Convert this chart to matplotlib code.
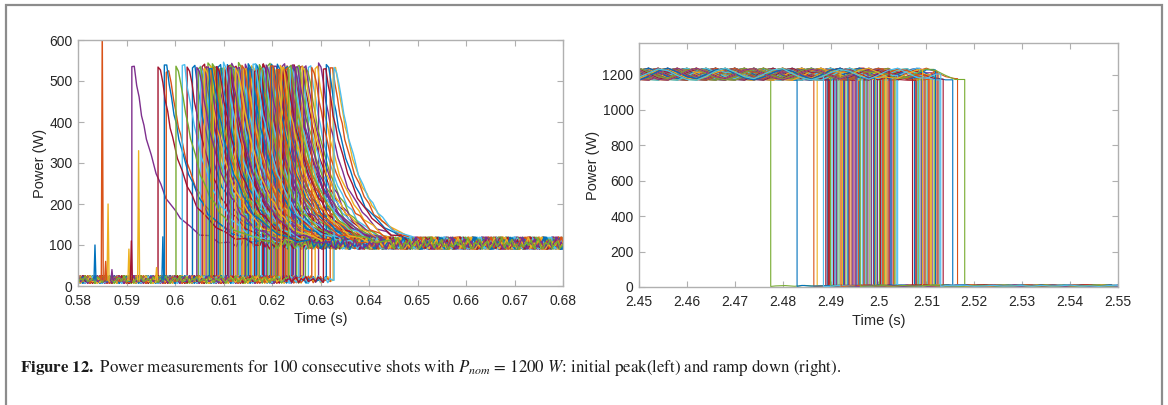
import numpy as np
import matplotlib.pyplot as plt
from matplotlib.patches import Rectangle

plt.rcParams['font.family'] = ['Liberation Sans', 'DejaVu Sans']
plt.rcParams['mathtext.fontset'] = 'stix'

# MATLAB default line colours
shot_colors = ['#0072BD', '#D95319', '#EDB120', '#7E2F8E', '#77AC30', '#4DBEEE', '#A2142F']

# ---------------- left panel: initial peak ----------------
# onset time of the power step for each of the 100 shots (s)
onset_t = [
    0.5911, 0.5965, 0.5978, 0.5982, 0.6002, 0.6015, 0.6025, 0.6036, 0.6045, 0.6048,
    0.6052, 0.6056, 0.6061, 0.6064, 0.6068, 0.6071, 0.6075, 0.6079, 0.6082, 0.6086,
    0.6089, 0.6093, 0.6097, 0.6100, 0.6104, 0.6108, 0.6111, 0.6114, 0.6118, 0.6121,
    0.6125, 0.6128, 0.6131, 0.6135, 0.6138, 0.6141, 0.6145, 0.6148, 0.6151, 0.6155,
    0.6158, 0.6161, 0.6164, 0.6168, 0.6171, 0.6174, 0.6178, 0.6181, 0.6184, 0.6188,
    0.6191, 0.6194, 0.6197, 0.6201, 0.6204, 0.6207, 0.6211, 0.6214, 0.6217, 0.6221,
    0.6224, 0.6227, 0.6231, 0.6234, 0.6238, 0.6241, 0.6244, 0.6248, 0.6251, 0.6255,
    0.6258, 0.6262, 0.6265, 0.6269, 0.6275, 0.6282, 0.6289, 0.6296, 0.6306, 0.6312,
    0.6320, 0.6326, 0.6328, 0.6109, 0.6152, 0.6060, 0.6077, 0.6133, 0.6182, 0.6219,
    0.6243, 0.6093, 0.6166, 0.6210, 0.6236, 0.6117, 0.6143, 0.6199, 0.6228, 0.6073,
]
peak_level = [535, 530, 538, 527, 533, 540, 529, 536, 531]

# shape of the peak after the step: time after onset (ms) and power (W)
decay_ms = [0, 0.5, 1, 1.5, 2, 2.5, 3, 4, 5, 6, 7, 8, 9, 10, 12, 14, 16, 18, 20]
decay_w = [535, 532, 492, 455, 420, 390, 362, 315, 276, 245, 220, 198, 180, 165, 142, 127, 117, 110, 105]
decay_ripple = [0, 4, -3, 6, -5, 2, -4, 5, -2, 3, -6, 1, 4]

# baseline before the step and level after the peak (W)
base_w = [14, 18, 11, 22, 16, 9, 19, 13, 24, 15, 7, 17, 20, 12, 25, 10, 16, 21, 8, 18, 14, 23, 11]
tail_w = [102, 96, 108, 99, 112, 94, 104, 117, 98, 91, 106, 101, 114, 95, 103, 109, 92,
          100, 111, 97, 105, 119, 93, 107, 99, 113, 96, 102, 90]

# isolated spikes on the baseline: time (s), power (W), colour index
spike_t = [0.5835, 0.5850, 0.5862, 0.5857, 0.5905, 0.5925, 0.5910, 0.5975, 0.5870, 0.5962]
spike_w = [100, 640, 200, 60, 90, 330, 110, 120, 40, 45]
spike_c = [0, 1, 2, 1, 2, 2, 6, 0, 3, 2]

# ---------------- right panel: ramp down ----------------
end_t = [
    2.4775, 2.4830, 2.4865, 2.4872, 2.4885, 2.4890, 2.4893, 2.4896, 2.4900, 2.4903,
    2.4906, 2.4909, 2.4912, 2.4915, 2.4918, 2.4922, 2.4925, 2.4929, 2.4932, 2.4936,
    2.4940, 2.4943, 2.4947, 2.4951, 2.4955, 2.4958, 2.4962, 2.4966, 2.4970, 2.4974,
    2.4978, 2.4982, 2.4986, 2.4990, 2.4994, 2.4998, 2.5002, 2.5006, 2.5010, 2.5014,
    2.5018, 2.5022, 2.5026, 2.5031, 2.5035, 2.5040, 2.5071, 2.5075, 2.5079, 2.5083,
    2.5086, 2.5089, 2.5092, 2.5095, 2.5099, 2.5102, 2.5106, 2.5109, 2.5112, 2.5116,
    2.5119, 2.5122, 2.5126, 2.5130, 2.5135, 2.5155, 2.5165, 2.5180, 2.4913, 2.4938,
    2.4960, 2.4985, 2.5012, 2.5037, 2.4898, 2.4920, 2.4945, 2.4968, 2.4992, 2.5008,
    2.5020, 2.5028, 2.5078, 2.5091, 2.5104, 2.5118, 2.5128, 2.4895, 2.4927, 2.4953,
    2.4976, 2.4996, 2.5004, 2.5016, 2.5024, 2.5033, 2.5081, 2.5097, 2.5110, 2.5124,
]
plateau_w = [1215, 1198, 1176, 1185, 1208, 1231, 1222, 1195, 1172, 1168, 1190, 1219, 1236,
             1214, 1188, 1177, 1201, 1226, 1233, 1205, 1181, 1170, 1186, 1211, 1229, 1218,
             1193, 1174, 1197, 1224, 1235, 1210, 1183, 1179, 1203, 1227, 1212]
off_w = [6, 8, 4, 9, 5, 7, 11, 5, 6, 3, 8, 7, 10, 4, 6, 9, 5]


def cycled(vals, n, shift):
    return np.resize(np.roll(np.asarray(vals, float), shift), n)


fig = plt.figure(figsize=(11.68, 4.05), dpi=100)
ax1 = fig.add_axes([78 / 1168, 1 - 286 / 405, 485 / 1168, 246 / 405])
ax2 = fig.add_axes([639 / 1168, 1 - 287 / 405, 479 / 1168, 244 / 405])

# draw shots in a mixed order so the colours are not sorted by time
order = [(k * 37) % 100 for k in range(100)]

for k, i in enumerate(order):
    c = shot_colors[(k + 3) % 7]
    t0 = onset_t[i]
    tb = np.arange(0.5800, t0, 0.0005)
    yb = cycled(base_w, len(tb), i * 3)
    td = t0 + np.array(decay_ms) / 1000
    yd = np.array(decay_w) + cycled(decay_ripple, len(decay_ms), i)
    yd[:2] += peak_level[i % len(peak_level)] - 535
    tt = np.arange(t0 + 0.0210, 0.6805, 0.0005)
    yt = cycled(tail_w, len(tt), i * 5)
    x = np.concatenate([tb, [t0], td, tt])
    y = np.concatenate([yb, [yb[-1] if len(yb) else 15], yd, yt])
    ax1.plot(x, y, color=c, lw=1.0)

for t, w, ci in zip(spike_t, spike_w, spike_c):
    ax1.plot([t - 0.0002, t, t + 0.0002], [15, w, 15], color=shot_colors[ci], lw=1.0)

for k, i in enumerate(order):
    c = shot_colors[(k + 4) % 7]
    t1 = end_t[i]
    tp = np.arange(2.4500, t1, 0.002)
    yp = cycled(plateau_w, len(tp), i * 7)
    ta = np.arange(t1 + 0.001, 2.5505, 0.002)
    ya = cycled(off_w, len(ta), i * 2)
    x = np.concatenate([tp, [t1, t1], ta])
    y = np.concatenate([yp, [yp[-1], 3], ya])
    ax2.plot(x, y, color=c, lw=0.8)

for ax in (ax1, ax2):
    for s in ax.spines.values():
        s.set_color('#b0b0b0')
        s.set_linewidth(1.0)
    ax.tick_params(direction='in', top=True, right=True, length=4, width=0.8,
                   color='#b0b0b0', labelcolor='#262626', labelsize=10)
    ax.tick_params(axis='x', pad=6)
    ax.tick_params(axis='y', pad=4)
    ax.set_xlabel('Time (s)', fontsize=10.5, color='#262626', labelpad=3)
    ax.set_ylabel('Power (W)', fontsize=10.5, color='#262626')

ax1.yaxis.set_label_coords(-0.064, 0.5)
ax2.yaxis.set_label_coords(-0.082, 0.5)

ax1.set_xlim(0.58, 0.68)
ax1.set_ylim(0, 600)
ax1.set_xticks(np.arange(0.58, 0.6801, 0.01))
ax1.set_xticklabels(['0.58', '0.59', '0.6', '0.61', '0.62', '0.63', '0.64', '0.65', '0.66', '0.67', '0.68'])
ax1.set_yticks(range(0, 601, 100))

ax2.set_xlim(2.45, 2.55)
ax2.set_ylim(0, 1378)
ax2.set_xticks(np.arange(2.45, 2.5501, 0.01))
ax2.set_xticklabels(['2.45', '2.46', '2.47', '2.48', '2.49', '2.5', '2.51', '2.52', '2.53', '2.54', '2.55'])
ax2.set_yticks(range(0, 1201, 200))

fig.add_artist(Rectangle((6 / 1168, -0.02), 1156 / 1168, 1 - 5 / 405 + 0.02,
                         transform=fig.transFigure, fill=False, ec='#8c8c8c', lw=1.6))

fig.text(20 / 1168, 1 - 367 / 405,
         r'$\mathbf{Figure\ 12.}$ Power measurements for 100 consecutive shots with '
         r'$P_{nom}$ = 1200 $W$: initial peak(left) and ramp down (right).',
         fontsize=12.2, family='STIXGeneral', va='center', ha='left', color='#1a1a1a')

fig.savefig('out.png', dpi=100)
